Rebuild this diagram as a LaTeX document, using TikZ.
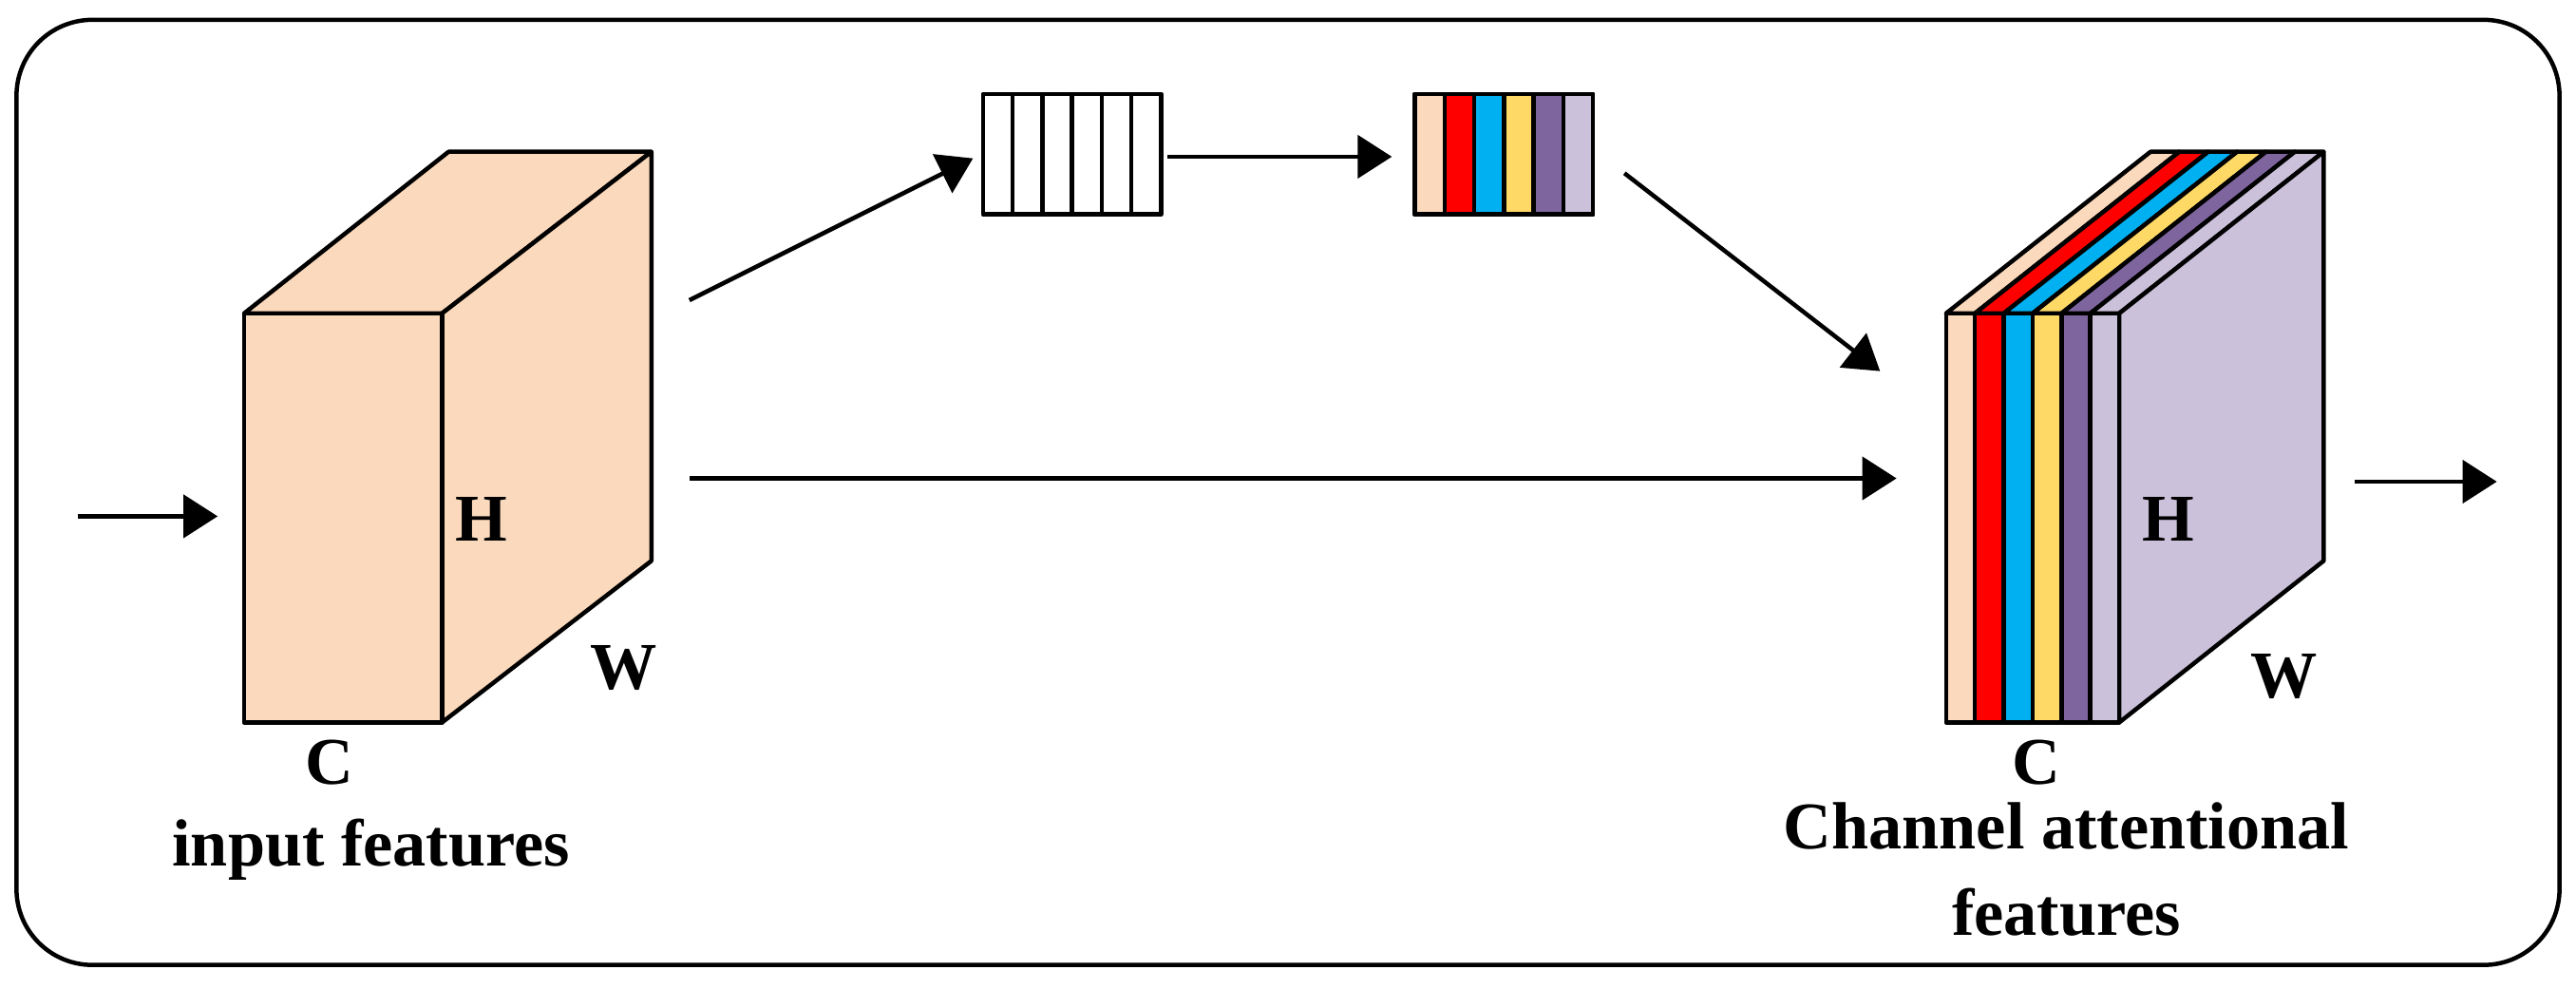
\documentclass[tikz,border=0pt]{standalone}
\usepackage{fontspec}
\setmainfont{Liberation Serif}
\usetikzlibrary{arrows.meta}
\definecolor{peach}{HTML}{FBD9BC}
\definecolor{cred}{HTML}{FF0000}
\definecolor{ccyan}{HTML}{00B0F0}
\definecolor{cyellow}{HTML}{FFD966}
\definecolor{cpurple}{HTML}{7F659E}
\definecolor{clav}{HTML}{CCC1DA}
\begin{document}
\begin{tikzpicture}[x=0.01736cm, y=-0.01736cm, line width=0.45mm, line join=round,
  arr/.style={-{Triangle[length=3.6mm, width=4.5mm]}},
  vec/.style={draw, minimum width=1.875cm, minimum height=1.267cm, inner sep=0pt},
  lbl/.style={font=\fontsize{20}{24}\selectfont\bfseries, align=center, inner sep=0pt}]
      \useasboundingbox (0,0) rectangle (1562,599);
      \draw[rounded corners=0.8cm] (10,12) rectangle (1552,585);

      % input cube
      \draw[fill=peach] (148,190) -- (272,92) -- (395,92) -- (268,190) -- cycle;
      \draw[fill=peach] (268,190) -- (395,92) -- (395,340) -- (268,438) -- cycle;
      \draw[fill=peach] (148,190) rectangle (268,438);
      \node[lbl] (h1) at (292,315) {H};
      \node[lbl] (w1) at (378,405) {W};
      \node[lbl] (c1) at (200,462) {C};
      \node[lbl] (in) at (225,515) {input features};

      % vectors
      \node[vec] (v1) at (650,93.5) {};
      \foreach \i in {1,...,5}
        \draw (596+\i*18,57) -- (596+\i*18,130);
      \node[vec] (v2) at (912,93.5) {};
      \foreach \c [count=\i from 0] in {peach,cred,ccyan,cyellow,cpurple,clav}
        \draw[fill=\c] (858+\i*18,57) rectangle (876+\i*18,130);

      % output block
      \foreach \c [count=\i from 0] in {peach,cred,ccyan,cyellow,cpurple,clav}
        \draw[fill=\c] (1180+\i*17.5,190) -- (1304+\i*17.5,92) -- (1321.5+\i*17.5,92) -- (1197.5+\i*17.5,190) -- cycle;
      \draw[fill=clav] (1285,190) -- (1409,92) -- (1409,340) -- (1285,438) -- cycle;
      \foreach \c [count=\i from 0] in {peach,cred,ccyan,cyellow,cpurple,clav}
        \draw[fill=\c] (1180+\i*17.5,190) rectangle (1197.5+\i*17.5,438);
      \node[lbl] (h2) at (1315,315) {H};
      \node[lbl] (w2) at (1385,410) {W};
      \node[lbl] (c2) at (1235,462) {C};
      \node[lbl] (out) at (1253,527) {Channel attentional\\[2pt]features};

      % arrows
      \coordinate (a0) at (47,313);
      \coordinate (a1) at (132,313);
      \coordinate (b0) at (418,182);
      \coordinate (b1) at (590,96);
      \coordinate (c0) at (708,95);
      \coordinate (c1) at (844,95);
      \coordinate (d0) at (985,105);
      \coordinate (d1) at (1140,225);
      \coordinate (e0) at (418,290);
      \coordinate (e1) at (1150,290);
      \coordinate (f0) at (1428,292);
      \coordinate (f1) at (1514,292);
      \draw[arr] (a0) -- (a1);
      \draw[arr] (b0) -- (b1);
      \draw[arr] (c0) -- (c1);
      \draw[arr] (d0) -- (d1);
      \draw[arr] (e0) -- (e1);
      \draw[arr] (f0) -- (f1);
\end{tikzpicture}
\end{document}
